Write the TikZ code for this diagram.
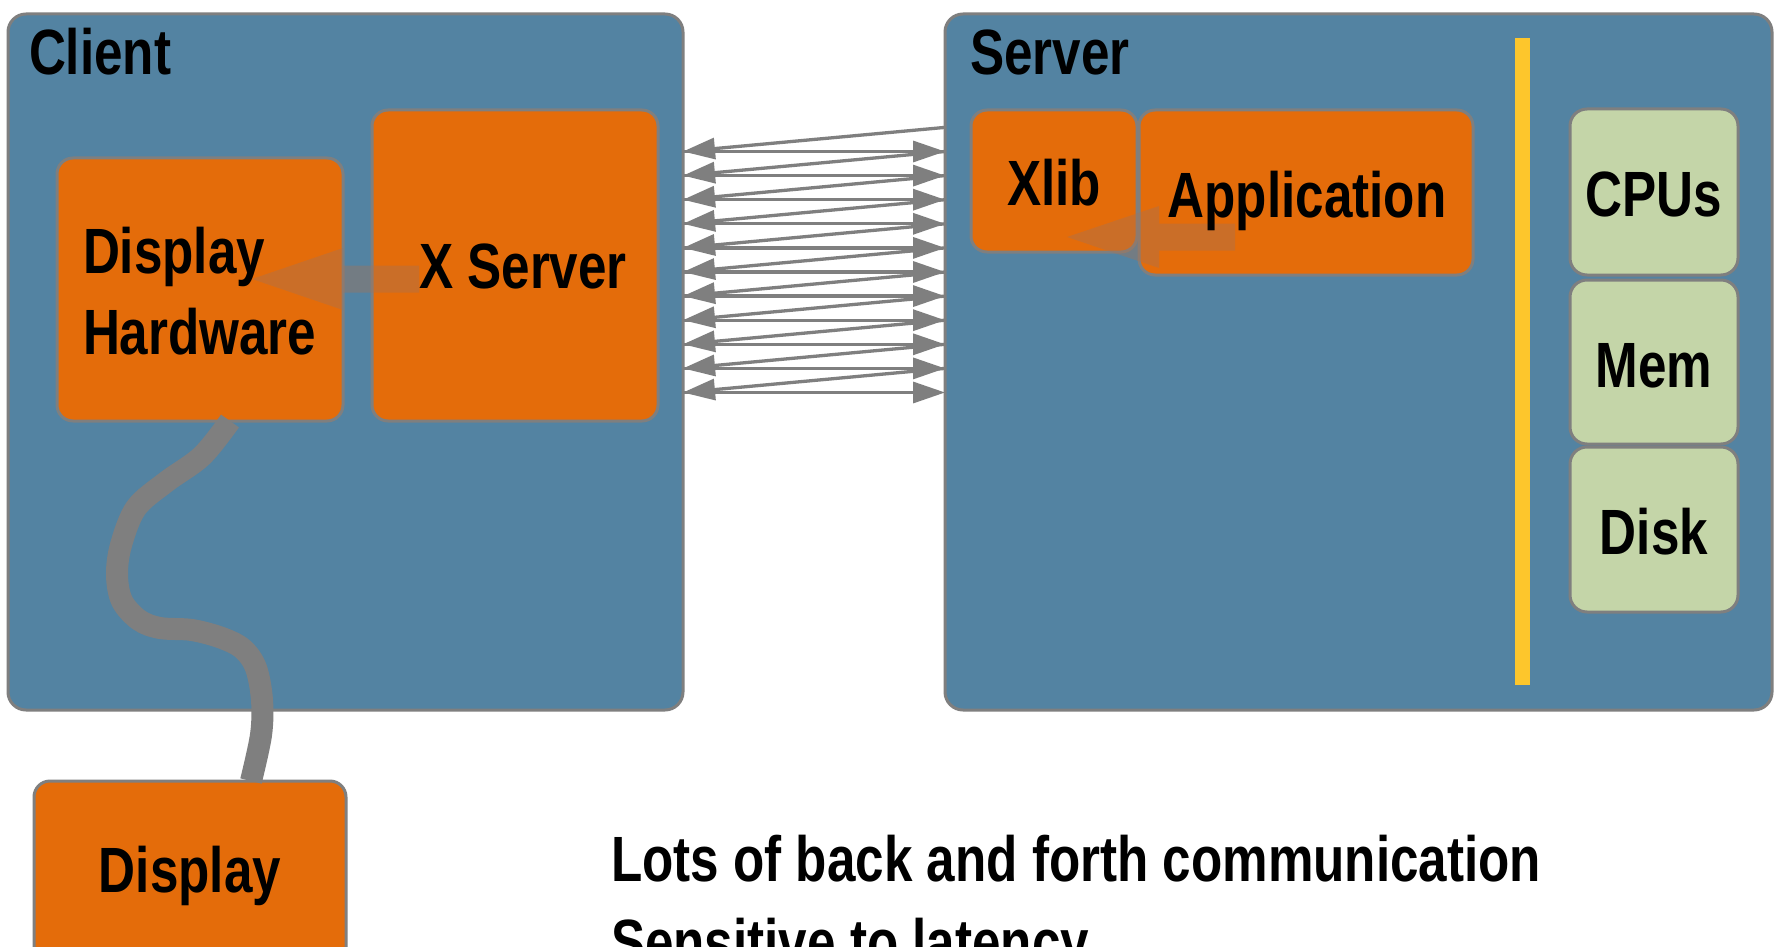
\documentclass[tikz,border=0pt]{standalone}
\usepackage{fontspec}
\newfontfamily\lblfont{Liberation Sans}[FakeStretch=0.8]
\usetikzlibrary{arrows.meta}
\definecolor{bgblue}{HTML}{5383A2}
\definecolor{boxorange}{HTML}{E46C0A}
\definecolor{boxgreen}{HTML}{C4D5A8}
\definecolor{baryellow}{HTML}{FDC62C}
\definecolor{edgegray}{HTML}{7F7F7F}
\definecolor{blkbrown}{RGB}{165,115,85}
\begin{document}
\begin{tikzpicture}[x=1pt,y=-1pt,
  panel/.style={draw=edgegray, line width=3pt, fill=bgblue, rounded corners=18pt, anchor=north west, inner sep=0pt, outer sep=0pt},
  obox/.style={draw=edgegray, line width=3pt, fill=boxorange, rounded corners=16pt, anchor=north west, inner sep=0pt, outer sep=0pt},
  gbox/.style={draw=edgegray, line width=3pt, fill=boxgreen, rounded corners=17pt, anchor=north west, inner sep=0pt, outer sep=0pt},
  lbl/.style={font=\lblfont\bfseries\fontsize{64}{81}\selectfont, inner sep=0pt, outer sep=0pt, text=black},
  msg/.style={draw=edgegray, line width=3.3pt, -{Triangle[length=32pt,width=21pt]}},
  cable/.style={draw=edgegray, line width=22pt},
  blk/.style={fill=blkbrown, fill opacity=0.4}]
\useasboundingbox (0,0) rectangle (1775,947);
\clip (0,0) rectangle (1775,947);
\fill[white] (0,0) rectangle (1775,947);
% panels
\node[panel, minimum width=675pt, minimum height=696pt] (client) at (8,14) {};
\node[panel, minimum width=827pt, minimum height=696pt] (server) at (945,14) {};
% messages
\foreach \i in {0,...,10} {
  \pgfmathsetmacro{\d}{137.5+24.1*\i}
  \pgfmathsetmacro{\e}{\d-24.1}
  \draw[msg] ([yshift=-\e pt]server.north west) -- ([yshift=-\d pt]client.north east);
  \draw[msg] ([yshift=-\d pt]client.north east) -- ([yshift=-\d pt]server.north west);
}
% boxes
\node[obox, minimum width=286pt, minimum height=263pt] (dh) at (57,158) {};
\node[obox, minimum width=286pt, minimum height=311pt] (xs) at (372,110) {};
\node[obox, minimum width=312pt, minimum height=199pt] (disp) at (34,781) {};
% cable
\coordinate (c0) at ([xshift=30pt]dh.south);
\coordinate (c1) at ([xshift=61pt]disp.north);
\draw[cable] plot[smooth, tension=0.55] coordinates {(c0) (202,456) (166,482) (136,508) (121,545) (117,575) (122,601) (139,620) (160,628) (192,630) (222,638) (243,649) (256,668) (262,700) (261,735) (c1)};
\node[obox, minimum width=166pt, minimum height=142pt] (xlib) at (971,110) {};
\node[obox, minimum width=334pt, minimum height=165pt] (app) at (1139,110) {};
\node[gbox, minimum width=168pt, minimum height=166pt] (cpu) at (1570,109) {};
\node[gbox, minimum width=168pt, minimum height=164pt] (mem) at (1570,280) {};
\node[gbox, minimum width=168pt, minimum height=165pt] (disk) at (1570,447) {};
\fill[baryellow] (1515,38) rectangle (1530,685);
% block arrows
\coordinate (t1) at (252,279);
\coordinate (t2) at (1067,237);
\fill[blk, shift={(t1)}] (0,0) -- (91,-31) -- (91,-13.5) -- (167,-13.5) -- (167,13.5) -- (91,13.5) -- (91,31) -- cycle;
\fill[blk, shift={(t2)}] (0,0) -- (92,-31) -- (92,-13.5) -- (168,-13.5) -- (168,13.5) -- (92,13.5) -- (92,31) -- cycle;
% labels
\node[lbl, anchor=base west] (clientlbl) at (29,75) {Client};
\node[lbl, anchor=base west] (serverlbl) at (970,75) {Server};
\node[lbl, anchor=north west, align=left] (dhlbl) at (83,227) {Display\\Hardware};
\node[lbl, anchor=base] (xslbl) at (523,288) {X Server};
\node[lbl, anchor=base] (xliblbl) at (1054,205) {Xlib};
\node[lbl, anchor=base] (applbl) at (1307,217) {Application};
\node[lbl, anchor=base] (cpulbl) at (1654,216) {CPUs};
\node[lbl, anchor=base] (memlbl) at (1654,387) {Mem};
\node[lbl, anchor=base] (disklbl) at (1654,554) {Disk};
\node[lbl, anchor=base] (displbl) at (190,892) {Display};
\node[lbl, anchor=north west, align=left, font=\lblfont\bfseries\fontsize{64}{83}\selectfont] (note) at (611,835) {Lots of back and forth communication\\Sensitive to latency};
\end{tikzpicture}
\end{document}
